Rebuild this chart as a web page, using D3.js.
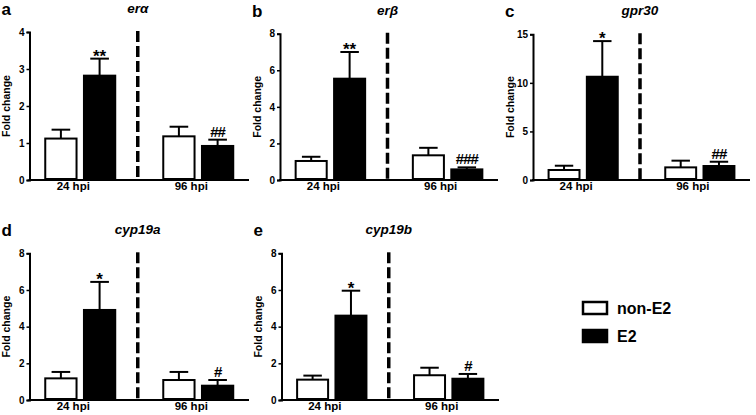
<!DOCTYPE html>
<html><head><meta charset="utf-8">
<script src="https://cdn.jsdelivr.net/npm/d3@7"></script>
<style>
body{margin:0;background:#fff;}
svg{display:block;font-family:"Liberation Sans",Arial,sans-serif;}
</style></head>
<body><svg id="chart" width="756" height="415"></svg>
<script>
// ---- data ----
const groups = ["24 hpi", "96 hpi"];
const series = ["non-E2", "E2"];
const panelLetters = ["a", "b", "c", "d", "e"];
const genes = ["erα", "erβ", "gpr30", "cyp19a", "cyp19b"];
const yMax = [4, 8, 15, 8, 8];
const yTicks = [[0,1,2,3,4],[0,2,4,6,8],[0,5,10,15],[0,2,4,6,8],[0,2,4,6,8]];
// means [24 hpi, 96 hpi]
const nonE2Mean = [[1.12,1.18],[1.04,1.35],[1.03,1.30],[1.18,1.09],[1.11,1.35]];
const nonE2Sem  = [[0.24,0.26],[0.23,0.41],[0.44,0.69],[0.35,0.44],[0.22,0.41]];
const e2Mean    = [[2.82,0.92],[5.54,0.58],[10.63,1.44],[4.91,0.78],[4.60,1.16]];
const e2Sem     = [[0.46,0.17],[1.46,0.11],[3.67,0.44],[1.53,0.31],[1.36,0.26]];
const e2Sig     = [["**","##"],["**","###"],["*","##"],["*","#"],["*","#"]];
const yLabel = "Fold change";

// ---- layout ----
const panels = [
  {x0:29.5, x1:249, top:32,   bottom:180},
  {x0:280,  x1:498, top:33.7, bottom:180},
  {x0:533,  x1:750, top:34.3, bottom:180},
  {x0:29.5, x1:249, top:253.3, bottom:400},
  {x0:281.5,x1:499, top:253.3, bottom:400}
];
const svg = d3.select("#chart");
const fill = {"non-E2":"#fff","E2":"#000"};

panels.forEach((p,i)=>{
  const g = svg.append("g");
  const y = d3.scaleLinear().domain([0,yMax[i]]).range([p.bottom,p.top]);
  const xg = d3.scaleBand().domain(groups).range([p.x0,p.x1]).paddingInner(0.39).paddingOuter(0.125);
  const xs = d3.scaleBand().domain(series).range([0,xg.bandwidth()]).paddingInner(0.14);

  // y axis
  const ya = g.append("g").attr("transform",`translate(${p.x0},0)`)
    .call(d3.axisLeft(y).tickValues(yTicks[i]).tickSize(3).tickPadding(2).tickFormat(d3.format("d")));
  ya.select(".domain").attr("stroke","#000").attr("stroke-width",2);
  ya.selectAll(".tick line").attr("stroke","#000").attr("stroke-width",1.5);
  ya.selectAll(".tick text").attr("font-size",10).attr("font-weight","bold").attr("fill","#000")
    .attr("font-family","'Liberation Sans',Arial,sans-serif");

  // x axis line
  g.append("line").attr("x1",p.x0-1).attr("x2",p.x1).attr("y1",p.bottom).attr("y2",p.bottom)
    .attr("stroke","#000").attr("stroke-width",2);

  // bars
  groups.forEach((gr,gi)=>{
    const vals = [{s:"non-E2",m:nonE2Mean[i][gi],e:nonE2Sem[i][gi]},{s:"E2",m:e2Mean[i][gi],e:e2Sem[i][gi],sig:e2Sig[i][gi]}];
    vals.forEach(v=>{
      const bx = xg(gr)+xs(v.s), bw = xs.bandwidth(), cx = bx+bw/2;
      // error bar
      g.append("line").attr("x1",cx).attr("x2",cx).attr("y1",y(v.m)).attr("y2",y(v.m+v.e))
        .attr("stroke","#000").attr("stroke-width",2);
      g.append("line").attr("x1",cx-bw*0.28).attr("x2",cx+bw*0.28).attr("y1",y(v.m+v.e)).attr("y2",y(v.m+v.e))
        .attr("stroke","#000").attr("stroke-width",2);
      g.append("rect").attr("x",bx+1).attr("y",y(v.m)).attr("width",bw-2).attr("height",y(0)-y(v.m)-1)
        .attr("fill",fill[v.s]).attr("stroke","#000").attr("stroke-width",2);
      if(v.sig){
        const isStar = v.sig[0]==="*";
        g.append("text").attr("x",cx).attr("y",y(v.m+v.e)-(isStar?-3:3))
          .attr("text-anchor","middle").attr("font-size",isStar?17:15).attr("font-weight","bold")
          .attr("letter-spacing",isStar?0:-1)
          .text(v.sig);
      }
    });
    g.append("text").attr("x",xg(gr)+xg.bandwidth()/2-7).attr("y",p.bottom+9.5)
      .attr("text-anchor","middle").attr("font-size",11.5).attr("font-weight","bold").text(gr);
  });

  // dashed separator
  const sepX = (xg(groups[0])+xg.bandwidth()+xg(groups[1]))/2 - 1.5;
  g.append("line").attr("x1",sepX).attr("x2",sepX).attr("y1",p.top-1).attr("y2",p.bottom)
    .attr("stroke","#000").attr("stroke-width",3.5).attr("stroke-dasharray","11,4");

  // title
  g.append("text").attr("x",sepX).attr("y",p.top-19).attr("text-anchor","middle")
    .attr("font-size",13.5).attr("font-weight","bold").attr("font-style","italic").text(genes[i]);
  // panel letter
  g.append("text").attr("x",p.x0-28).attr("y",p.top-17).attr("font-size",17).attr("font-weight","bold").text(panelLetters[i]);
  // y label
  g.append("text").attr("transform",`translate(${p.x0-19.5},${(p.top+p.bottom)/2}) rotate(-90)`)
    .attr("text-anchor","middle").attr("font-size",10.5).attr("font-weight","bold").text(yLabel);
});

// legend
const leg = svg.append("g").attr("transform","translate(582,301)");
series.forEach((s,k)=>{
  const row = leg.append("g").attr("transform",`translate(0,${k*28})`);
  row.append("rect").attr("x",1).attr("y",1).attr("width",24).attr("height",12)
    .attr("fill",fill[s]).attr("stroke","#000").attr("stroke-width",2.5);
  row.append("text").attr("x",35).attr("y",12.5).attr("font-size",16).attr("font-weight","bold").text(s);
});
</script></body></html>
